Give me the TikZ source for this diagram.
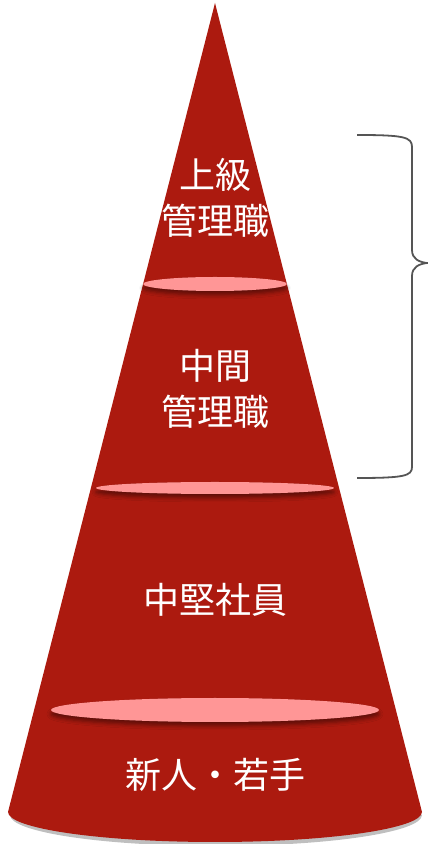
\documentclass[tikz,border=0pt]{standalone}
\usepackage{fontspec}
\newfontfamily\cjk{Noto Sans CJK JP}
\usetikzlibrary{shadows.blur}
\definecolor{conered}{RGB}{172,26,15}
\definecolor{ringpink}{RGB}{255,150,150}
\definecolor{bracegray}{RGB}{85,85,85}
\begin{document}
\begin{tikzpicture}[x=1pt,y=1pt,
  ring/.style={fill=ringpink, draw=none, blur shadow={shadow xshift=0pt, shadow yshift=-4pt, shadow blur radius=4pt, shadow opacity=45}},
  lbl/.style={text=white, font=\cjk\fontsize{36}{46}\selectfont, align=center, inner sep=0pt}]
\useasboundingbox (0,0) rectangle (428,844);
% base shadow
\fill[black, opacity=0.25] (10,29) arc[start angle=180, end angle=360, x radius=206, y radius=31] -- cycle;
% cone
\fill[conered] (215,841) -- (8,32) arc[start angle=180, end angle=360, x radius=207, y radius=30] -- cycle;
% rings
\path[ring] (215,560) ellipse[x radius=72, y radius=7];
\path[ring] (215,356) ellipse[x radius=119, y radius=6];
\path[ring] (215,134) ellipse[x radius=164, y radius=12];
% labels
\node[lbl] (l1) at (215,646) {上級\\管理職};
\node[lbl] (l2) at (215,455) {中間\\管理職};
\node[lbl] (l3) at (215,244) {中堅社員};
\node[lbl] (l4) at (215,69) {新人・若手};
% brace
\draw[bracegray, line width=1.8pt] (357,709) .. controls (404,709) and (412,707) .. (412,697) -- (412,594)
  .. controls (412,585) and (419,582) .. (427,581) .. controls (419,580) and (412,577) .. (412,568)
  -- (412,377) .. controls (412,368) and (404,366) .. (357,366);
\end{tikzpicture}
\end{document}
